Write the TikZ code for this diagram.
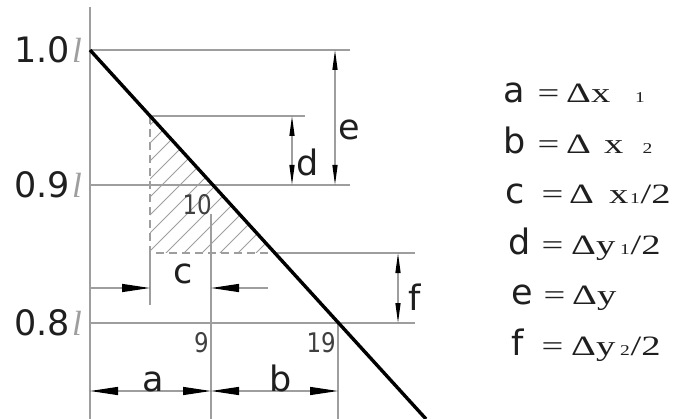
\documentclass[tikz,border=0pt]{standalone}
\usepackage{fontspec}
\setmainfont{DejaVu Sans}
\newfontfamily\timesfont{Liberation Serif}
\usepackage{xcolor}
\usetikzlibrary{arrows.meta,positioning,calc}

\definecolor{guidegray}{gray}{0.62}
\definecolor{inkgray}{gray}{0.12}

\newcommand{\wsf}[1]{\scalebox{1.38}[1]{\timesfont\fontsize{28}{28}\selectfont #1}}
\newcommand{\wsub}[1]{\scalebox{1.3}[1]{\timesfont\fontsize{15}{15}\selectfont #1}}
\newcommand{\lcell}[2]{\makebox[#1][l]{#2}}
\newcommand{\lenl}{{\timesfont\itshape\color{guidegray}\hspace{2pt}l}}
\newcommand{\numsc}[1]{\scalebox{0.85}[1]{#1}}

\tikzset{
  guide/.style={draw=guidegray, line width=1.3pt},
  dashedge/.style={guide, dash pattern=on 8pt off 5pt},
  hatchline/.style={draw=guidegray, line width=0.8pt},
  htip/.style={guide, -{Triangle[length=28pt,width=8pt,color=black]}},
  hdim/.style={guide, {Triangle[length=28pt,width=8pt,color=black]}-{Triangle[length=28pt,width=8pt,color=black]}},
  vdim/.style={guide, {Triangle[length=20pt,width=5pt,color=black]}-{Triangle[length=20pt,width=5pt,color=black]}},
  bigtext/.style={inner sep=0pt, text=inkgray, font=\fontsize{35}{35}\selectfont},
  smallnum/.style={inner sep=0pt, text=inkgray!85, font=\fontsize{27}{27}\selectfont}
}

\begin{document}
\begin{tikzpicture}[x=1pt,y=-1pt]
  \path[use as bounding box, fill=white] (0,0) rectangle (676,419);

  \coordinate (ax0) at (90,7);    \coordinate (ax1) at (90,419);
  \coordinate (g1a) at (90,50);   \coordinate (g1b) at (350,50);
  \coordinate (g2a) at (150,116); \coordinate (g2b) at (305,116);
  \coordinate (g3a) at (90,185);  \coordinate (g3b) at (350,185);
  \coordinate (g4a) at (150,253); \coordinate (g4m) at (275,253); \coordinate (g4b) at (415,253);
  \coordinate (g5a) at (90,323);  \coordinate (g5b) at (415,323);
  \coordinate (lend) at (426,419);
  \coordinate (v1) at (150,305);
  \coordinate (v2a) at (211,214); \coordinate (v2b) at (211,419);
  \coordinate (v3a) at (338,323); \coordinate (v3b) at (338,419);
  \coordinate (c0) at (90,288);   \coordinate (c1) at (150,288);
  \coordinate (c2) at (211,288);  \coordinate (c3) at (268,288);
  \coordinate (ab0) at (90,391);  \coordinate (ab1) at (211,391); \coordinate (ab2) at (338,391);
  \coordinate (d0) at (292,116);  \coordinate (d1) at (292,185);
  \coordinate (e0) at (335,50);   \coordinate (e1) at (335,185);
  \coordinate (f0) at (398,253);  \coordinate (f1) at (398,323);

  \draw[guide] (ax0) -- (ax1);
  \draw[guide] (g1a) -- (g1b);
  \draw[guide] (g2a) -- (g2b);
  \draw[guide] (g3a) -- (g3b);
  \draw[dashedge] (g2a) -- (g4a) -- (g4m);
  \draw[guide] (g4m) -- (g4b);
  \draw[guide] (g5a) -- (g5b);
  \draw[guide] (g4a) -- (v1);
  \draw[guide] (v2a) -- (v2b);
  \draw[guide] (v3a) -- (v3b);

  \begin{scope}
    \clip (g2a) -- (g4a) -- (g4m) -- cycle;
    \foreach \s in {275,293,...,545}
      \draw[hatchline] ({\s-260},260) -- ({\s-110},110);
  \end{scope}

  \draw[line width=3.4pt] (g1a) -- (lend);

  \draw[htip] (c0) -- (c1);
  \draw[htip] (c3) -- (c2);
  \draw[hdim] (ab0) -- (ab1);
  \draw[hdim] (ab1) -- (ab2);
  \draw[vdim] (d0) -- (d1);
  \draw[vdim] (e0) -- (e1);
  \draw[vdim] (f0) -- (f1);

  \node[bigtext, left=8pt of g1a] (lab10) {1.0\lenl};
  \node[bigtext, left=8pt of g3a] (lab09) {0.9\lenl};
  \node[bigtext, left=8pt of g5a] (lab08) {0.8\lenl};

  \node[smallnum, anchor=base east] (n10) at (212,215) {\numsc{10}};
  \node[smallnum, anchor=base east] (n9) at (209,352) {\numsc{9}};
  \node[smallnum, anchor=base east] (n19) at (336,352) {\numsc{19}};

  \node[bigtext, anchor=base] (la) at (153,391) {a};
  \node[bigtext, anchor=base] (lb) at (281,391) {b};
  \node[bigtext, anchor=base] (lc) at (183,283) {c};
  \node[bigtext, anchor=base] (ld) at (308,176) {d};
  \node[bigtext, anchor=base] (le) at (349,140) {e};
  \node[bigtext, anchor=base] (lf) at (415,310) {f};

  \foreach \dx/\row [count=\i] in {
      503/{\lcell{34.5pt}{a}\lcell{28.5pt}{\wsf{=}}\lcell{25pt}{\wsf{Δ}}\lcell{44pt}{\wsf{x}}\wsub{1}},
      503/{\lcell{34.5pt}{b}\lcell{28.5pt}{\wsf{=}}\lcell{38pt}{\wsf{Δ}}\lcell{38.5pt}{\wsf{x}}\wsub{2}},
      505/{\lcell{36.5pt}{c}\lcell{27.5pt}{\wsf{=}}\lcell{40pt}{\wsf{Δ}}\lcell{21pt}{\wsf{x}}\lcell{10.5pt}{\wsub{1}}\wsf{/2}},
      508/{\lcell{33.5pt}{d}\lcell{29.5pt}{\wsf{=}}\lcell{25pt}{\wsf{Δ}}\lcell{24pt}{\wsf{y}}\lcell{10.5pt}{\wsub{1}}\wsf{/2}},
      511/{\lcell{32.5pt}{e}\lcell{28.5pt}{\wsf{=}}\lcell{25pt}{\wsf{Δ}}\wsf{y}},
      511/{\lcell{30.5pt}{f}\lcell{29.5pt}{\wsf{=}}\lcell{25pt}{\wsf{Δ}}\lcell{24pt}{\wsf{y}}\lcell{10.5pt}{\wsub{2}}\wsf{/2}}} {
    \pgfmathsetmacro{\by}{103+50.4*(\i-1)}
    \node[bigtext, anchor=base west] (leg\i) at (\dx,\by) {\row};
  }
\end{tikzpicture}
\end{document}
